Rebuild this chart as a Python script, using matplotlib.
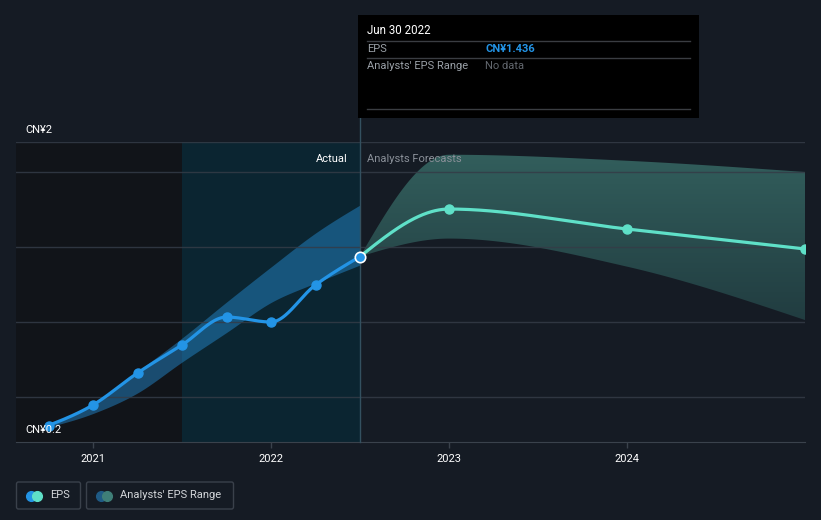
import numpy as np
import matplotlib
matplotlib.use("Agg")
import matplotlib.pyplot as plt
from matplotlib.patches import Rectangle, FancyBboxPatch

plt.rcParams["font.family"] = ["Roboto", "DejaVu Sans"]

# EPS history (CN¥) and past analyst range
past_x = [2020.75, 2021.0, 2021.25, 2021.5, 2021.75, 2022.0, 2022.25, 2022.5]
past_eps = [0.31, 0.447, 0.66, 0.847, 1.033, 1.0, 1.247, 1.436]
past_low = [0.30, 0.39, 0.527, 0.733, 0.93, 1.13, 1.26, 1.38]
past_high = [0.31, 0.447, 0.67, 0.893, 1.133, 1.367, 1.593, 1.78]

# analyst forecasts
fc_x = [2022.5, 2023.0, 2024.0, 2025.0]
fc_eps = [1.436, 1.753, 1.62, 1.487]
fc_low = [1.436, 1.556, 1.369, 1.013]
fc_high = [1.436, 2.115, 2.075, 2.0]

year_ticks = [2021, 2022, 2023, 2024]
grid_vals = [0.5, 1.0, 1.5, 2.0, 2.2]

BG = "#151b24"
BLUE = "#2394e6"
TEAL = "#5fe0c8"


def monotone(x, y, n=300):
    # monotone cubic (d3 curveMonotoneX style)
    x = np.asarray(x, float)
    y = np.asarray(y, float)
    h = np.diff(x)
    s = np.diff(y) / h
    m = np.zeros_like(y)
    for i in range(1, len(y) - 1):
        p = (s[i - 1] * h[i] + s[i] * h[i - 1]) / (h[i - 1] + h[i])
        m[i] = (np.sign(s[i - 1]) + np.sign(s[i])) * min(abs(s[i - 1]), abs(s[i]), 0.5 * abs(p))
    m[0] = (3 * s[0] - m[1]) / 2 if len(y) > 2 else s[0]
    m[-1] = (3 * s[-1] - m[-2]) / 2 if len(y) > 2 else s[-1]
    xs, ys = [], []
    for i in range(len(h)):
        t = np.linspace(0, 1, n // len(h))
        h00 = 2 * t**3 - 3 * t**2 + 1
        h10 = t**3 - 2 * t**2 + t
        h01 = -2 * t**3 + 3 * t**2
        h11 = t**3 - t**2
        xs.append(x[i] + t * h[i])
        ys.append(h00 * y[i] + h10 * h[i] * m[i] + h01 * y[i + 1] + h11 * h[i] * m[i + 1])
    return np.concatenate(xs), np.concatenate(ys)


fig = plt.figure(figsize=(8.21, 5.2), dpi=100, facecolor=BG)
W, H = 821, 520
ax = fig.add_axes([16 / W, (H - 442) / H, (805 - 16) / W, 300 / H])
ax.set_facecolor(BG)
x0 = 2021 - (93 - 16) / 178
ax.set_xlim(x0, 2025.0)
ax.set_ylim(0.2, 2.2)

# past / present shading
ax.axvspan(x0, 2021.5, color="#111419", zorder=0, lw=0)
ax.axvspan(2021.5, 2022.5, color="#0b2531", zorder=0, lw=0)

for g in grid_vals:
    ax.axhline(g, color="#343c47", lw=1, alpha=0.85, zorder=3)

# past analyst range band
bx, bl = monotone(past_x, past_low)
_, bh = monotone(past_x, past_high)
ax.fill_between(bx, bl, bh, color="#2385c8", alpha=0.5, lw=0, zorder=2)

# forecast band with vertical gradient
fx, fl = monotone(fc_x, fc_low)
_, fh = monotone(fc_x, fc_high)
poly = ax.fill_between(fx, fl, fh, color="none", lw=0, zorder=2)
grad = np.linspace(0, 1, 256).reshape(-1, 1)
top = np.array([50, 94, 92]) / 255
bot = np.array([33, 60, 64]) / 255
img = top + (bot - top) * grad[:, :, None].repeat(1, axis=1)
im = ax.imshow(img, extent=[2022.5, 2025.0, 1.0, 2.12], aspect="auto", origin="upper", zorder=2)
im.set_clip_path(poly.get_paths()[0], transform=ax.transData)
ax.set_xlim(x0, 2025.0)
ax.set_ylim(0.2, 2.2)

# lines
lx, ly = monotone(past_x, past_eps)
ax.plot(lx, ly, color=BLUE, lw=2.3, zorder=4, solid_capstyle="round")
ax.plot(past_x[:-1], past_eps[:-1], "o", color=BLUE, ms=6.5, zorder=5)
fxl, fyl = monotone(fc_x, fc_eps)
ax.plot(fxl, fyl, color=TEAL, lw=2.3, zorder=4)
ax.plot(fc_x[1:], fc_eps[1:], "o", color=TEAL, ms=6.5, zorder=5)
ax.plot([past_x[-1]], [past_eps[-1]], "o", color=BLUE, mec="white", mew=1.2, ms=7.5, zorder=6)

# divider line up to tooltip
ax.plot([2022.5, 2022.5], [0.2, 0.2 + (442 - 118) / 150], color="#33505f", lw=1, zorder=3, clip_on=False)

ax.annotate("Actual", (2022.5, 2.2), xytext=(-9, -12), textcoords="offset points",
            ha="right", va="center", color="white", fontsize=8, zorder=7)
ax.annotate("Analysts Forecasts", (2022.5, 2.2), xytext=(5, -12), textcoords="offset points",
            ha="left", va="center", color="#8a9099", fontsize=8, zorder=7)

ax.set_xticks(year_ticks)
ax.set_xticklabels([str(y) for y in year_ticks])
ax.tick_params(axis="x", colors="#3a424c", labelcolor="white", labelsize=8, length=4, width=1, pad=5)
ax.set_yticks([])
for side in ["top", "left", "right"]:
    ax.spines[side].set_visible(False)
ax.spines["bottom"].set_color("#3a424c")

# overlay in pixel coordinates for labels, tooltip and legend
ov = fig.add_axes([0, 0, 1, 1], zorder=10)
ov.set_xlim(0, W)
ov.set_ylim(H, 0)
ov.axis("off")
ov.patch.set_alpha(0)

ov.text(25, 130, "CN¥2", color="white", fontsize=8, va="center")
ov.text(25, 430, "CN¥0.2", color="white", fontsize=8, va="center")

# tooltip
ov.add_patch(Rectangle((358, 15), 341, 103, facecolor="black", edgecolor="none"))
ov.text(367, 31, "Jun 30 2022", color="white", fontsize=8.3, va="center")
for yy in (41, 58, 109):
    ov.plot([367, 690], [yy, yy], color="#3a3d42", lw=1)
ov.text(367, 49, "EPS", color="#9aa0a7", fontsize=8, va="center")
ov.text(485, 49, "CN¥1.436", color=BLUE, fontsize=8, va="center", fontweight="bold")
ov.text(367, 66, "Analysts' EPS Range", color="#9aa0a7", fontsize=8, va="center")
ov.text(485, 66, "No data", color="#62676e", fontsize=8, va="center")

# legend
ov.add_patch(FancyBboxPatch((16.5, 482), 64, 27, boxstyle="round,pad=0,rounding_size=2",
                            facecolor="none", edgecolor="#3a414b", lw=1))
ov.add_patch(FancyBboxPatch((86.5, 482), 147, 27, boxstyle="round,pad=0,rounding_size=2",
                            facecolor="none", edgecolor="#3a414b", lw=1))
ov.plot([31], [495.5], "o", color=BLUE, ms=7)
ov.plot([37], [495.5], "o", color=TEAL, ms=7)
ov.plot([101], [495.5], "o", color="#1f5b86", ms=7)
ov.plot([107], [495.5], "o", color="#3f7f78", ms=7)
ov.text(50, 495.5, "EPS", color="#d3d6da", fontsize=8, va="center")
ov.text(120, 495.5, "Analysts' EPS Range", color="#d3d6da", fontsize=8, va="center")

fig.savefig("out.png", dpi=100, facecolor=BG)
